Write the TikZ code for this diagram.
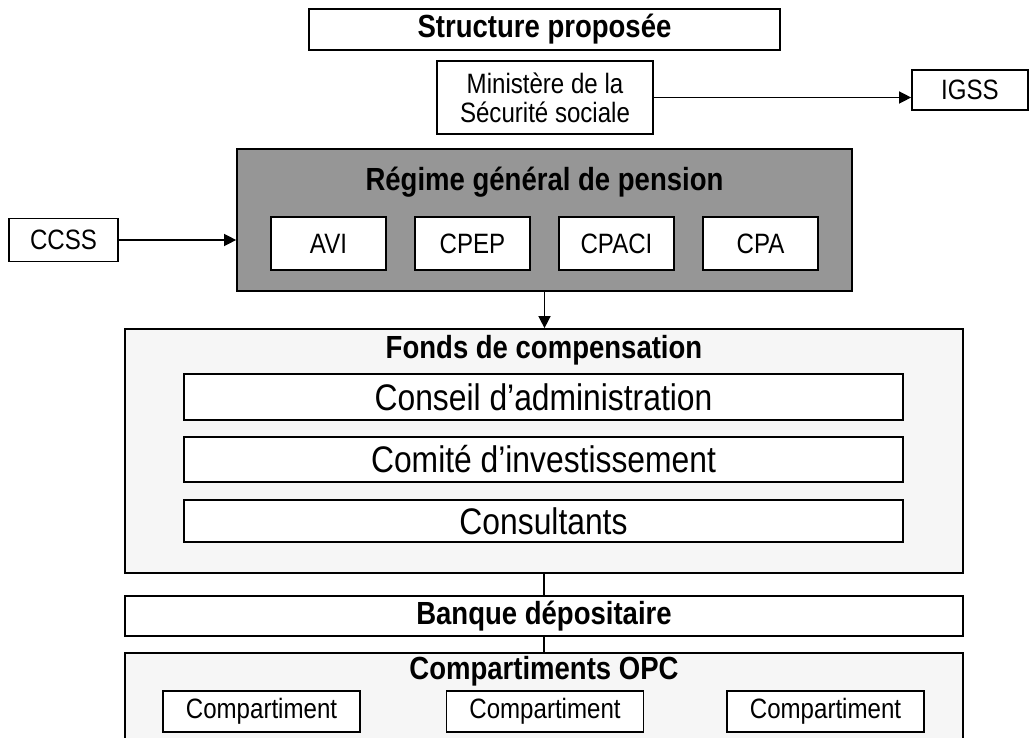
\documentclass[tikz,border=0pt]{standalone}
\usepackage{fontspec}
\setmainfont{Liberation Sans}[FakeStretch=0.86]
\usetikzlibrary{arrows.meta}
\definecolor{grisregime}{RGB}{150,150,150}
\definecolor{grisfonds}{RGB}{246,246,246}

\begin{document}
\begin{tikzpicture}[
    x=1pt, y=-1pt,
    >={Triangle[length=12pt,width=12pt]},
    boite/.style={draw, line width=1.7pt, fill=white, inner sep=0pt, align=center,
      font=\fontsize{28}{29}\selectfont},
    titre/.style={inner sep=0pt, font=\fontsize{32}{34}\selectfont\bfseries},
    grand/.style={boite, minimum width=719pt, font=\fontsize{37}{40}\selectfont},
    caisse/.style={boite, minimum width=115pt, minimum height=53pt},
    compart/.style={boite, minimum width=197pt, minimum height=41pt},
    lien/.style={line width=1.4pt}
    ]
    \useasboundingbox (0,0) rectangle (1029,738);
    \clip (0,0) rectangle (1029,738);
    \node[boite, titre, minimum width=471pt, minimum height=41pt] (structure) at (544.5,29.5) {Structure proposée};
    \node[boite, minimum width=216pt, minimum height=73pt] (ministere) at (545,97.5) {Ministère de la\\Sécurité sociale};
    \node[boite, minimum width=116pt, minimum height=40pt] (igss) at (970,90) {IGSS};
    \node[draw, line width=1.7pt, fill=grisregime, minimum width=615pt, minimum height=142pt] (regime) at (544.5,220) {};
    \node[titre] (regimetitre) at (544.5,182) {Régime général de pension};
    \foreach \nom [count=\i] in {AVI,CPEP,CPACI,CPA}
        \node[caisse] (caisse\i) at ({184.5+144*\i},243.5) {\nom};
    \node[boite, minimum width=109pt, minimum height=43pt] (ccss) at (63.5,240) {CCSS};
    \node[boite, fill=grisfonds, minimum width=838pt, minimum height=244pt] (fonds) at (544,451) {};
    \node[titre] (fondstitre) at (544,350) {Fonds de compensation};
    \node[grand, minimum height=46pt] (conseil) at (543.5,397) {Conseil d’administration};
    \node[grand, minimum height=45pt] (comite) at (543.5,459.5) {Comité d’investissement};
    \node[grand, minimum height=42pt] (consultants) at (543.5,521) {Consultants};
    \node[boite, titre, draw, minimum width=838pt, minimum height=40pt] (banque) at (544,616) {Banque dépositaire};
    \node[boite, fill=grisfonds, minimum width=838pt, minimum height=137pt] (opc) at (544,721.5) {};
    \node[titre] (opctitre) at (544,671) {Compartiments OPC};
    \foreach \x [count=\i] in {261.5,545,825.5}
        \node[compart] (compart\i) at (\x,711.5) {Compartiment};
    \draw[lien,->] (ministere.east) -- (ministere.east -| igss.west);
    \draw[lien,->] (ccss) -- (ccss -| regime.west);
    \draw[lien,->] (regime.south) -- (regime.south |- fonds.north);
    \draw[lien] (fonds.south) -- (fonds.south |- banque.north);
    \draw[lien] (banque.south) -- (banque.south |- opc.north);
\end{tikzpicture}
\end{document}
